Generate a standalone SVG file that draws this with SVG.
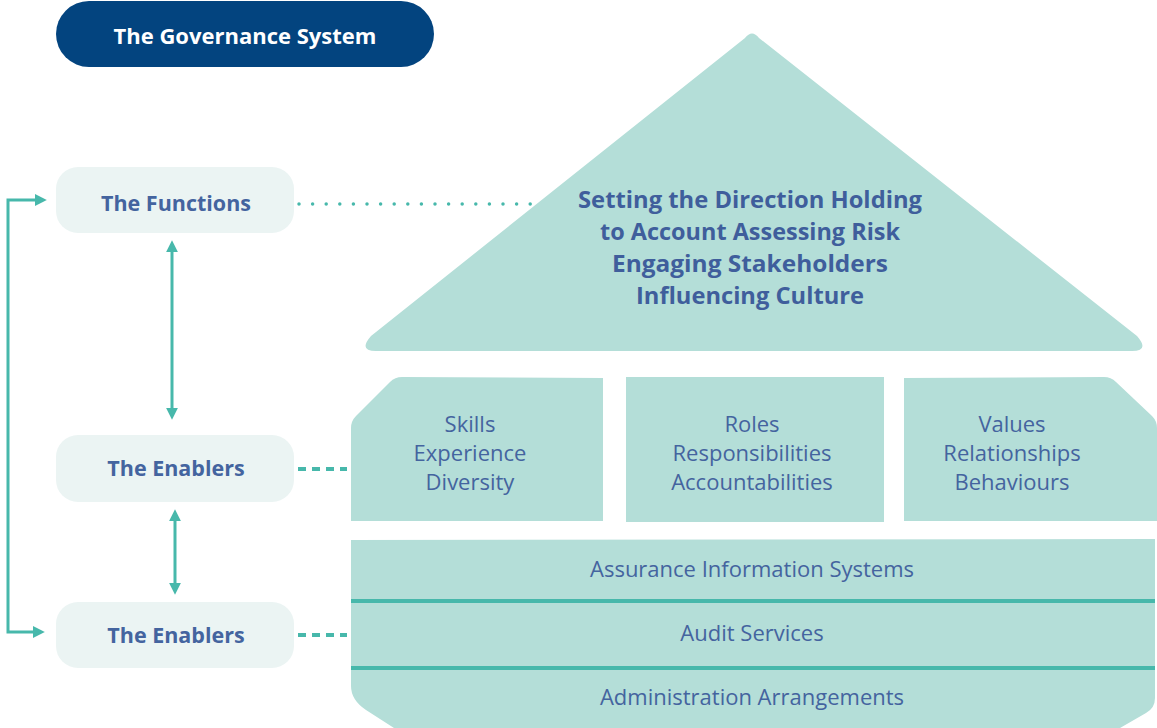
<svg xmlns="http://www.w3.org/2000/svg" width="1157" height="728" viewBox="0 0 1157 728">
<defs>
<style>
.fill{fill:#b4ded8;}
.lbox{fill:#ebf4f3;}
.lbl{font-family:"Open Sans","Liberation Sans",sans-serif;font-weight:bold;font-size:21.5px;fill:#44649f;text-anchor:middle;}
.txt{font-family:"Open Sans","Liberation Sans",sans-serif;font-size:22px;fill:#44649f;text-anchor:middle;}
.tri{font-family:"Open Sans","Liberation Sans",sans-serif;font-weight:bold;font-size:23px;fill:#3f5e9c;text-anchor:middle;}
.conn{stroke:#47b8ab;stroke-width:3;fill:none;}
.sep{stroke:#47b8ab;stroke-width:4;}
</style>
<marker id="ah" viewBox="0 0 10 10" refX="1" refY="5" markerWidth="12" markerHeight="12" markerUnits="userSpaceOnUse" orient="auto-start-reverse">
<path d="M0,0 L10,5 L0,10 Z" fill="#47b8ab"/>
</marker>
</defs>
<rect width="1157" height="728" fill="#ffffff"/>

<g id="title">
<rect x="56" y="1" width="378" height="66" rx="33" fill="#03447f"/>
<text x="245" y="44" font-family="'Open Sans','Liberation Sans',sans-serif" font-weight="bold" font-size="22" fill="#ffffff" text-anchor="middle">The Governance System</text>
</g>

<g id="functions">
<rect class="lbox" x="56" y="167" width="238" height="66" rx="22"/>
<text class="lbl" x="176" y="211">The Functions</text>
</g>
<g id="enablers1">
<rect class="lbox" x="56" y="435" width="238" height="67" rx="22"/>
<text class="lbl" x="176" y="476">The Enablers</text>
</g>
<g id="enablers2">
<rect class="lbox" x="56" y="602" width="238" height="66" rx="22"/>
<text class="lbl" x="176" y="643">The Enablers</text>
</g>

<g id="roof">
<path class="fill" d="M745,38 Q752,29 759,38 L1137,336 Q1150,351 1132,351 L376,351 Q358,351 371,336 Z"/>
<text class="tri" x="750" y="208" textLength="344" lengthAdjust="spacingAndGlyphs">Setting the Direction Holding</text>
<text class="tri" x="750" y="240" textLength="300" lengthAdjust="spacingAndGlyphs">to Account Assessing Risk</text>
<text class="tri" x="750" y="272" textLength="276" lengthAdjust="spacingAndGlyphs">Engaging Stakeholders</text>
<text class="tri" x="750" y="304" textLength="228" lengthAdjust="spacingAndGlyphs">Influencing Culture</text>
</g>

<g id="pillar1">
<path class="fill" d="M351,521 L351,428 Q351,421 356,416 L390,382 Q395,377 402,377 L603,378 L603,521 Z"/>
<text class="txt" x="470" y="432">Skills</text>
<text class="txt" x="470" y="461">Experience</text>
<text class="txt" x="470" y="490">Diversity</text>
</g>
<g id="pillar2">
<rect class="fill" x="626" y="377" width="258" height="145"/>
<text class="txt" x="752" y="432">Roles</text>
<text class="txt" x="752" y="461">Responsibilities</text>
<text class="txt" x="752" y="490">Accountabilities</text>
</g>
<g id="pillar3">
<path class="fill" d="M904,378 L1104,377 Q1111,377 1116,382 L1152,416 Q1157,421 1157,428 L1157,521 L904,521 Z"/>
<text class="txt" x="1012" y="432">Values</text>
<text class="txt" x="1012" y="461">Relationships</text>
<text class="txt" x="1012" y="490">Behaviours</text>
</g>

<g id="foundation">
<path class="fill" d="M351,540 L1155,539 L1155,698 Q1155,708 1146,713 L1120,728 L394,728 L366,710 Q351,700 351,686 Z"/>
<line class="sep" x1="351" y1="601" x2="1155" y2="601"/>
<line class="sep" x1="351" y1="668" x2="1155" y2="668"/>
<text class="txt" x="752" y="577">Assurance Information Systems</text>
<text class="txt" x="752" y="641">Audit Services</text>
<text class="txt" x="752" y="705">Administration Arrangements</text>
</g>

<g id="connectors">
<path class="conn" d="M36,200 H8 V632 H34" marker-start="url(#ah)" marker-end="url(#ah)"/>
<path class="conn" d="M172,251 V409" marker-start="url(#ah)" marker-end="url(#ah)"/>
<path class="conn" d="M175,520 V584" marker-start="url(#ah)" marker-end="url(#ah)"/>
<line x1="299" y1="204" x2="532" y2="204" stroke="#47b8ab" stroke-width="3.5" stroke-linecap="round" stroke-dasharray="0 13.6"/>
<line x1="298" y1="469" x2="347" y2="469" stroke="#47b8ab" stroke-width="4" stroke-dasharray="8 6"/>
<line x1="298" y1="635" x2="347" y2="635" stroke="#47b8ab" stroke-width="4" stroke-dasharray="8 6"/>
</g>
</svg>
